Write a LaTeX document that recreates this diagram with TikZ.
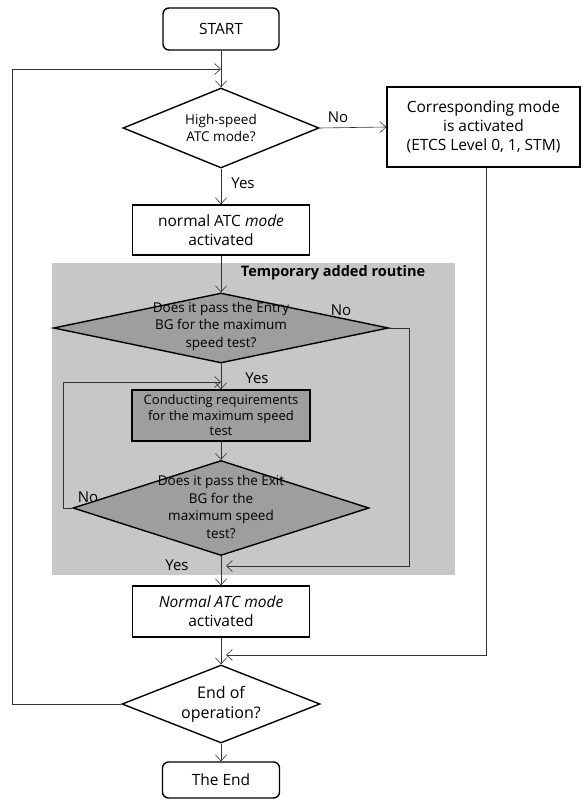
\documentclass[tikz,border=0pt]{standalone}
\usepackage{fontspec}
\setmainfont{Open Sans}
\usetikzlibrary{shapes.geometric,arrows.meta}

\begin{document}
\begin{tikzpicture}[x=1pt,y=-1pt,
		box/.style={draw,line width=1.4pt,align=center,inner sep=2pt,font=\fontsize{15.5}{19}\selectfont},
		term/.style={box,rounded corners=6pt},
		dec/.style={draw,diamond,line width=1.4pt,inner sep=0pt},
		dtxt/.style={align=center,font=\fontsize{13.5}{17.5}\selectfont},
		line/.style={line width=0.6pt,draw=black!80},
		arr/.style={line,-{Straight Barb[length=6pt,width=11pt]}},
		lab/.style={font=\fontsize{15}{17}\selectfont}]
	\useasboundingbox (0,0) rectangle (584,800);
	% grey part of the chart
	\fill[black!22] (52,263) rectangle (455,575);
	\node[black,font=\bfseries\fontsize{14.5}{16}\selectfont] (title) at (333,273) {Temporary added routine};

	\node[term,minimum width=116,minimum height=42] (start) at (221,29) {START};
	\node[dec,minimum width=196,minimum height=80,label={[dtxt]center:High-speed\\ATC mode?}] (d1) at (221,128) {};
	\node[box,minimum width=193,minimum height=80] (corr) at (483.5,127) {Corresponding mode\\is activated\\(ETCS Level 0, 1, STM)};
	\node[box,minimum width=177,minimum height=50] (act1) at (221,230) {normal ATC \textit{mode}\\activated};
	\node[dec,fill=black!38,minimum width=335,minimum height=70,label={[dtxt,yshift=2pt]center:Does it pass the Entry\\BG for the maximum\\speed test?}] (d2) at (221,328) {};
	\node[box,fill=black!38,minimum width=178,minimum height=51,font=\fontsize{13}{15.5}\selectfont] (cond) at (221,415.5) {Conducting requirements\\for the maximum speed\\test};
	\node[dec,fill=black!38,minimum width=296,minimum height=95,label={[dtxt,yshift=1pt]center:Does it pass the Exit\\BG for the\\maximum speed\\test?}] (d3) at (221,508) {};
	\node[box,minimum width=177,minimum height=51] (act2) at (221,611.5) {\textit{Normal ATC mode}\\activated};
	\node[dec,minimum width=198,minimum height=78,label={[box,draw=none,font=\fontsize{16}{20}\selectfont]center:End of\\operation?}] (d4) at (221,704) {};
	\node[term,minimum width=117,minimum height=36] (end) at (221,780) {The End};

	% labels
	\node[lab] (no1) at (338,117) {No};
	\node[lab] (yes1) at (243,183) {Yes};
	\node[lab] (no2) at (341,310) {No};
	\node[lab] (yes2) at (257,378) {Yes};
	\node[lab] (no3) at (88,497) {No};
	\node[lab] (yes3) at (177,565) {Yes};

	\coordinate (top) at (221,69);
	\coordinate (j1) at (221,382);
	\coordinate (j2) at (226,566);
	\coordinate (j3) at (226,655);

	% main column
	\draw[arr] (start) -- (d1);
	\draw[arr] (d1) -- (act1);
	\draw[arr] (act1) -- (d2);
	\draw[arr] (d2) -- (cond);
	\draw[arr] (cond) -- (d3);
	\draw[arr] (d3) -- (act2);
	\draw[arr] (act2) -- (d4);
	\draw[arr] (d4) -- (end);
	\draw[arr] (d1.east) -- (corr.west);
	% loops
	\draw[arr] (d2.east) -- ++(20,0) |- (j2);
	\draw[arr] (d3.west) -- ++(-9,0) |- (j1);
	\draw[arr] (corr.south) ++(3,0) |- (j3);
	\draw[arr] (d4.west) -- ++(-109,0) |- (top);
\end{tikzpicture}
\end{document}
